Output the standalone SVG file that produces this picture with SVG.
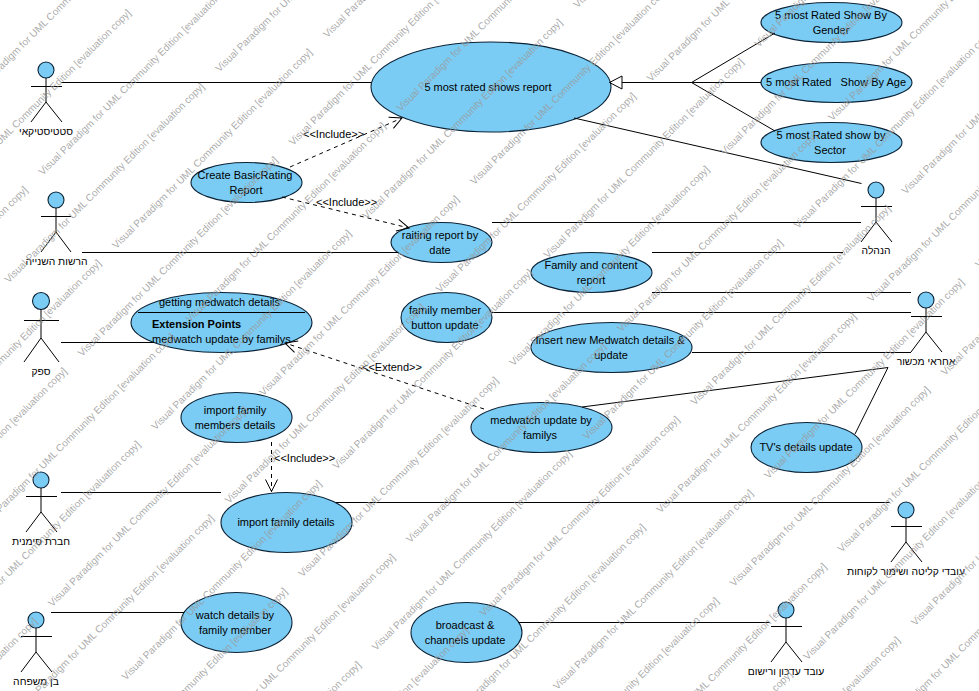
<svg xmlns="http://www.w3.org/2000/svg" width="979" height="691" viewBox="0 0 979 691">
<style>
text{font-family:"Liberation Sans",Arial,sans-serif;font-size:11px;fill:#000;text-anchor:middle;white-space:pre}
.uc{fill:#7accf4;stroke:#0b2236;stroke-width:1.1}
.act line{stroke:#000;stroke-width:1}
.act circle{fill:#7accf4;stroke:#0b2236;stroke-width:1.1}
.act text{font-size:10.3px}
.c{fill:none;stroke:#000;stroke-width:1}
.d{fill:none;stroke:#000;stroke-width:1;stroke-dasharray:4 4}
.l{text-anchor:start}
.w text{font-size:10.1px;fill:#9a9a9a;fill-opacity:.85;text-anchor:start}
</style>
<defs>
<marker id="open" markerUnits="userSpaceOnUse" markerWidth="16" markerHeight="16" refX="13" refY="8" orient="auto"><path d="M1 2 L13 8 L1 14" fill="none" stroke="#000" stroke-width="1"/></marker>
</defs>
<rect width="979" height="691" fill="#fff"/>
<g id="uc-main"><ellipse class="uc" cx="491" cy="87" rx="120" ry="45"/><text x="488" y="91">5 most rated shows report</text></g>
<g id="uc-gender"><ellipse class="uc" cx="831.5" cy="22.5" rx="70.5" ry="20"/><text x="831" y="19">5 most Rated Show By</text><text x="831" y="34">Gender</text></g>
<g id="uc-age"><ellipse class="uc" cx="836.5" cy="82.5" rx="75.5" ry="20"/><text x="836" y="86">5 most Rated   Show By Age</text></g>
<g id="uc-sector"><ellipse class="uc" cx="831.5" cy="142.5" rx="70.5" ry="20"/><text x="831" y="139">5 most Rated show by</text><text x="830" y="154">Sector</text></g>
<g id="uc-create"><ellipse class="uc" cx="246.5" cy="182.5" rx="55.5" ry="20"/><text x="245" y="179">Create BasicRating</text><text x="246" y="194">Report</text></g>
<g id="uc-raiting"><ellipse class="uc" cx="441.5" cy="242.5" rx="50.5" ry="20"/><text x="440" y="239">raiting report by</text><text x="440" y="254">date</text></g>
<g id="uc-family-content"><ellipse class="uc" cx="591.5" cy="272.5" rx="60.5" ry="20"/><text x="591" y="269">Family and content</text><text x="591" y="284">report</text></g>
<g id="uc-family-button"><ellipse class="uc" cx="446.5" cy="317.5" rx="45.5" ry="25"/><text x="445" y="314">family member</text><text x="445" y="329">button update</text></g>
<g id="uc-insert"><ellipse class="uc" cx="611.5" cy="347.5" rx="80.5" ry="25"/><text x="610" y="344">Insert new Medwatch details &amp;</text><text x="611" y="359">update</text></g>
<g id="uc-medwatch"><ellipse class="uc" cx="541.5" cy="427.5" rx="70.5" ry="25"/><text x="541" y="424">medwatch update by</text><text x="540" y="439">familys</text></g>
<g id="uc-tv"><ellipse class="uc" cx="806.5" cy="447.5" rx="55.5" ry="25"/><text x="806" y="451">TV's details update</text></g>
<g id="uc-getting"><ellipse class="uc" cx="221.5" cy="322.5" rx="90.5" ry="30"/><path class="c" d="M138 312.5H305"/><text x="219.5" y="306">getting medwatch details</text><text class="l" x="152" y="328" font-weight="700">Extension Points</text><text class="l" x="152" y="343">medwatch update by familys</text></g>
<g id="uc-import-members"><ellipse class="uc" cx="236.5" cy="417.5" rx="55.5" ry="25"/><text x="235" y="414">import family</text><text x="235" y="429">members details</text></g>
<g id="uc-import-details"><ellipse class="uc" cx="286.5" cy="522.5" rx="65.5" ry="30"/><text x="286" y="526">import family details</text></g>
<g id="uc-watch"><ellipse class="uc" cx="236.5" cy="622.5" rx="55.5" ry="30"/><text x="235" y="619">watch details by</text><text x="235" y="634">family member</text></g>
<g id="uc-broadcast"><ellipse class="uc" cx="466.5" cy="632.5" rx="55.5" ry="30"/><text x="465" y="629">broadcast &amp;</text><text x="465" y="644">channels update</text></g>
<g id="actor-statistician" class="act"><circle cx="46" cy="70" r="8"/><line x1="46" y1="78" x2="46" y2="102"/><line x1="31" y1="86.5" x2="62" y2="86.5"/><line x1="46" y1="102" x2="31" y2="122"/><line x1="46" y1="102" x2="62" y2="122"/><text x="46" y="135">סטטיסטיקאי</text></g>
<g id="actor-authority" class="act"><circle cx="56" cy="200" r="8"/><line x1="56" y1="208" x2="56" y2="232"/><line x1="41" y1="216.5" x2="71" y2="216.5"/><line x1="56" y1="232" x2="41" y2="252"/><line x1="56" y1="232" x2="71" y2="252"/><text x="56.5" y="265">הרשות השנייה</text></g>
<g id="actor-supplier" class="act"><circle cx="41" cy="301" r="8.5"/><line x1="41" y1="309" x2="41" y2="338"/><line x1="24" y1="320.5" x2="59" y2="320.5"/><line x1="41" y1="338" x2="24" y2="362"/><line x1="41" y1="338" x2="59" y2="362"/><text x="41" y="375">ספק</text></g>
<g id="actor-subsidiary" class="act"><circle cx="41" cy="480" r="8"/><line x1="41" y1="488" x2="41" y2="512"/><line x1="26" y1="496.5" x2="57" y2="496.5"/><line x1="41" y1="512" x2="26" y2="532"/><line x1="41" y1="512" x2="57" y2="532"/><text x="41" y="545">חברת סימנית</text></g>
<g id="actor-family" class="act"><circle cx="36" cy="620" r="8"/><line x1="36" y1="628" x2="36" y2="652"/><line x1="21" y1="636.5" x2="52" y2="636.5"/><line x1="36" y1="652" x2="21" y2="672"/><line x1="36" y1="652" x2="52" y2="672"/><text x="36" y="685">בן משפחה</text></g>
<g id="actor-management" class="act"><circle cx="876" cy="190" r="8"/><line x1="876" y1="198" x2="876" y2="222"/><line x1="861" y1="206.5" x2="892" y2="206.5"/><line x1="876" y1="222" x2="861" y2="242"/><line x1="876" y1="222" x2="892" y2="242"/><text x="876" y="254">הנהלה</text></g>
<g id="actor-device" class="act"><circle cx="926" cy="300" r="8"/><line x1="926" y1="308" x2="926" y2="332"/><line x1="911" y1="316.5" x2="942" y2="316.5"/><line x1="926" y1="332" x2="911" y2="352"/><line x1="926" y1="332" x2="942" y2="352"/><text x="926" y="365">אחראי מכשור</text></g>
<g id="actor-intake" class="act"><circle cx="906" cy="510" r="8"/><line x1="906" y1="518" x2="906" y2="542"/><line x1="891" y1="526.5" x2="922" y2="526.5"/><line x1="906" y1="542" x2="891" y2="562"/><line x1="906" y1="542" x2="922" y2="562"/><text x="906" y="575">עובדי קליטה ושימור לקוחות</text></g>
<g id="actor-update" class="act"><circle cx="786" cy="610" r="8"/><line x1="786" y1="618" x2="786" y2="642"/><line x1="771" y1="626.5" x2="802" y2="626.5"/><line x1="786" y1="642" x2="771" y2="662"/><line x1="786" y1="642" x2="802" y2="662"/><text x="786" y="675">עובד עדכון ורישום</text></g>
<g id="connectors">
<path class="c" d="M61 82.5H371"/>
<path class="c" d="M622 82.5H691.5M691.5 82.5L775 33M691.5 82.5H761M691.5 82.5L775 131"/>
<path class="c" d="M609.5 82.5L622 76V89Z"/>
<path class="c" d="M574 118L861.5 183.5"/>
<path class="c" d="M492 222.5H861"/>
<path class="c" d="M652 252.5H843"/>
<path class="c" d="M82 252.5H398"/>
<path class="c" d="M652 292.5H911"/>
<path class="c" d="M492 312.5H911"/>
<path class="c" d="M692 352.5H911"/>
<path class="c" d="M582 407L888 367.5L855 434"/>
<path class="c" d="M61 342.5H154"/>
<path class="c" d="M61 492.5H221"/>
<path class="c" d="M336 502.5H890"/>
<path class="c" d="M51 612.5H184"/>
<path class="c" d="M518 622.5H770"/>
<path class="d" d="M290 167L402 118" marker-end="url(#open)"/>
<path class="d" d="M282 197L409 228" marker-end="url(#open)"/>
<path class="d" d="M484 409L285 343" marker-end="url(#open)"/>
<path class="d" d="M271.5 442V491.5" marker-end="url(#open)"/>
</g>
<g id="labels">
<text class="l" x="303" y="138">&lt;&lt;Include&gt;&gt;</text>
<text class="l" x="316" y="206">&lt;&lt;Include&gt;&gt;</text>
<text class="l" x="362" y="371">&lt;&lt;Extend&gt;&gt;</text>
<text class="l" x="274" y="462">&lt;&lt;Include&gt;&gt;</text>
</g>
<g id="watermark" class="w" transform="rotate(-45) translate(0 4)">
<text x="-94" y="46.7">Visual Paradigm for UML Community Edition [evaluation copy]</text>
<text x="-194.4" y="98.6">Visual Paradigm for UML Community Edition [evaluation copy]</text>
<text x="-94" y="150.6">Visual Paradigm for UML Community Edition [evaluation copy]</text>
<text x="-392.4" y="150.6">Visual Paradigm for UML Community Edition [evaluation copy]</text>
<text x="104" y="202.6">Visual Paradigm for UML Community Edition [evaluation copy]</text>
<text x="-194.4" y="202.6">Visual Paradigm for UML Community Edition [evaluation copy]</text>
<text x="204.4" y="254.5">Visual Paradigm for UML Community Edition [evaluation copy]</text>
<text x="-94" y="254.5">Visual Paradigm for UML Community Edition [evaluation copy]</text>
<text x="-392.4" y="254.5">Visual Paradigm for UML Community Edition [evaluation copy]</text>
<text x="104" y="306.5">Visual Paradigm for UML Community Edition [evaluation copy]</text>
<text x="-194.4" y="306.5">Visual Paradigm for UML Community Edition [evaluation copy]</text>
<text x="-492.8" y="306.5">Visual Paradigm for UML Community Edition [evaluation copy]</text>
<text x="204.4" y="358.5">Visual Paradigm for UML Community Edition [evaluation copy]</text>
<text x="-94" y="358.5">Visual Paradigm for UML Community Edition [evaluation copy]</text>
<text x="-392.4" y="358.5">Visual Paradigm for UML Community Edition [evaluation copy]</text>
<text x="402.4" y="410.4">Visual Paradigm for UML Community Edition [evaluation copy]</text>
<text x="104" y="410.4">Visual Paradigm for UML Community Edition [evaluation copy]</text>
<text x="-194.4" y="410.4">Visual Paradigm for UML Community Edition [evaluation copy]</text>
<text x="-492.8" y="410.4">Visual Paradigm for UML Community Edition [evaluation copy]</text>
<text x="204.4" y="462.4">Visual Paradigm for UML Community Edition [evaluation copy]</text>
<text x="-94" y="462.4">Visual Paradigm for UML Community Edition [evaluation copy]</text>
<text x="-392.4" y="462.4">Visual Paradigm for UML Community Edition [evaluation copy]</text>
<text x="-690.8" y="462.4">Visual Paradigm for UML Community Edition [evaluation copy]</text>
<text x="402.4" y="514.4">Visual Paradigm for UML Community Edition [evaluation copy]</text>
<text x="104" y="514.4">Visual Paradigm for UML Community Edition [evaluation copy]</text>
<text x="-194.4" y="514.4">Visual Paradigm for UML Community Edition [evaluation copy]</text>
<text x="-492.8" y="514.4">Visual Paradigm for UML Community Edition [evaluation copy]</text>
<text x="502.8" y="566.3">Visual Paradigm for UML Community Edition [evaluation copy]</text>
<text x="204.4" y="566.3">Visual Paradigm for UML Community Edition [evaluation copy]</text>
<text x="-94" y="566.3">Visual Paradigm for UML Community Edition [evaluation copy]</text>
<text x="-392.4" y="566.3">Visual Paradigm for UML Community Edition [evaluation copy]</text>
<text x="402.4" y="618.3">Visual Paradigm for UML Community Edition [evaluation copy]</text>
<text x="104" y="618.3">Visual Paradigm for UML Community Edition [evaluation copy]</text>
<text x="-194.4" y="618.3">Visual Paradigm for UML Community Edition [evaluation copy]</text>
<text x="-492.8" y="618.3">Visual Paradigm for UML Community Edition [evaluation copy]</text>
<text x="502.8" y="670.3">Visual Paradigm for UML Community Edition [evaluation copy]</text>
<text x="204.4" y="670.3">Visual Paradigm for UML Community Edition [evaluation copy]</text>
<text x="-94" y="670.3">Visual Paradigm for UML Community Edition [evaluation copy]</text>
<text x="-392.4" y="670.3">Visual Paradigm for UML Community Edition [evaluation copy]</text>
<text x="402.4" y="722.2">Visual Paradigm for UML Community Edition [evaluation copy]</text>
<text x="104" y="722.2">Visual Paradigm for UML Community Edition [evaluation copy]</text>
<text x="-194.4" y="722.2">Visual Paradigm for UML Community Edition [evaluation copy]</text>
<text x="-492.8" y="722.2">Visual Paradigm for UML Community Edition [evaluation copy]</text>
<text x="502.8" y="774.2">Visual Paradigm for UML Community Edition [evaluation copy]</text>
<text x="204.4" y="774.2">Visual Paradigm for UML Community Edition [evaluation copy]</text>
<text x="-94" y="774.2">Visual Paradigm for UML Community Edition [evaluation copy]</text>
<text x="-392.4" y="774.2">Visual Paradigm for UML Community Edition [evaluation copy]</text>
<text x="402.4" y="826.2">Visual Paradigm for UML Community Edition [evaluation copy]</text>
<text x="104" y="826.2">Visual Paradigm for UML Community Edition [evaluation copy]</text>
<text x="-194.4" y="826.2">Visual Paradigm for UML Community Edition [evaluation copy]</text>
<text x="502.8" y="878.1">Visual Paradigm for UML Community Edition [evaluation copy]</text>
<text x="204.4" y="878.1">Visual Paradigm for UML Community Edition [evaluation copy]</text>
<text x="-94" y="878.1">Visual Paradigm for UML Community Edition [evaluation copy]</text>
<text x="402.4" y="930.1">Visual Paradigm for UML Community Edition [evaluation copy]</text>
<text x="104" y="930.1">Visual Paradigm for UML Community Edition [evaluation copy]</text>
<text x="-194.4" y="930.1">Visual Paradigm for UML Community Edition [evaluation copy]</text>
<text x="204.4" y="982.1">Visual Paradigm for UML Community Edition [evaluation copy]</text>
<text x="-94" y="982.1">Visual Paradigm for UML Community Edition [evaluation copy]</text>
<text x="104" y="1034">Visual Paradigm for UML Community Edition [evaluation copy]</text>
<text x="-194.4" y="1034">Visual Paradigm for UML Community Edition [evaluation copy]</text>
<text x="204.4" y="1086">Visual Paradigm for UML Community Edition [evaluation copy]</text>
<text x="-94" y="1086">Visual Paradigm for UML Community Edition [evaluation copy]</text>
<text x="104" y="1138">Visual Paradigm for UML Community Edition [evaluation copy]</text>
</g>
</svg>
